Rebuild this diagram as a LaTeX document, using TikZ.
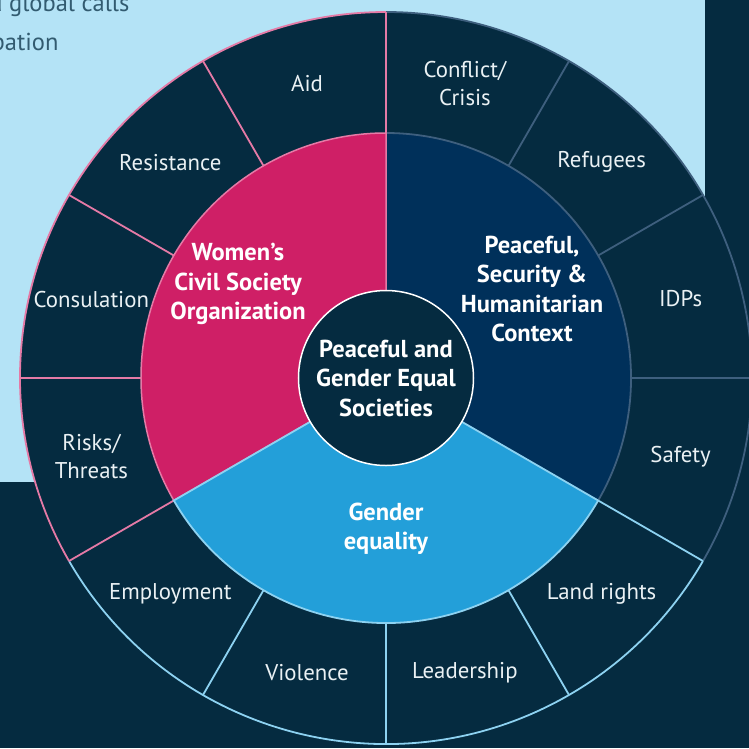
\documentclass[tikz,border=0pt]{standalone}
\usepackage{fontspec}
\setmainfont{PT Sans}
\usepackage{tikz}

\definecolor{bgnavy}{HTML}{052B40}
\definecolor{bglight}{HTML}{B4E3F6}
\definecolor{wcso}{HTML}{CF1F66}
\definecolor{wcsoline}{HTML}{E57AA6}
\definecolor{peace}{HTML}{00305A}
\definecolor{peaceline}{HTML}{3E5F7E}
\definecolor{gender}{HTML}{239FD9}
\definecolor{genderline}{HTML}{8DD2F1}
\definecolor{labeltext}{HTML}{EAF1F4}
\definecolor{introtext}{HTML}{325B70}

\tikzset{
  ringlabel/.style={text=labeltext, align=center, font=\fontsize{22.8}{28}\selectfont},
  sectorlabel/.style={text=white, align=center, font=\bfseries\fontsize{24.5}{29.5}\selectfont},
  introlabel/.style={anchor=base east, text=introtext, font=\fontsize{24.5}{24.5}\selectfont},
}

\begin{document}
\begin{tikzpicture}[x=1pt,y=1pt]

 % page is 749 x 748, wheel centred at (0,0)
 \useasboundingbox (-386,-370) rectangle (363,378);
 \fill[bgnavy] (-386,-370) rectangle (363,378);
 \fill[bglight] (-386,-104) rectangle (319,378);

% Bits of the intro text that run off the page
 \begin{scope}
  \clip (-386,-370) rectangle (363,378);
  \node[introlabel] (intro1) at (-253,367) {u global calls};
  \node[introlabel] (intro2) at (-324,328) {pation};
 \end{scope}

 \fill[bgnavy] (0,0) circle (366); % outer ring

% Ring lines: navy part first, then light blue, pink on top
 \draw[peaceline, line width=1.8] (-30:366) arc (-30:90:366);
 \draw[peaceline, line width=1.8] (0:245) -- (0:366);
 \draw[peaceline, line width=1.8] (30:245) -- (30:366);
 \draw[peaceline, line width=1.8] (60:245) -- (60:366);

 \draw[genderline, line width=1.8] (210:366) arc (210:330:366);
 \draw[genderline, line width=1.8] (240:245) -- (240:366);
 \draw[genderline, line width=1.8] (270:245) -- (270:366);
 \draw[genderline, line width=1.8] (300:245) -- (300:366);
 \draw[genderline, line width=1.8] (330:245) -- (330:366);

 \draw[wcsoline, line width=1.8] (90:366) arc (90:210:366);
 \draw[wcsoline, line width=1.8] (90:245) -- (90:366);
 \draw[wcsoline, line width=1.8] (120:245) -- (120:366);
 \draw[wcsoline, line width=1.8] (150:245) -- (150:366);
 \draw[wcsoline, line width=1.8] (180:245) -- (180:366);
 \draw[wcsoline, line width=1.8] (210:245) -- (210:366);

% The three sectors
 \fill[peace] (0,0) -- (-30:245) arc (-30:90:245) -- cycle;
 \draw[peaceline, line width=1.8] (-30:245) arc (-30:90:245);
 \filldraw[fill=wcso, draw=wcsoline, line width=1.5] (0,0) -- (90:245) arc (90:210:245) -- cycle;
 \filldraw[fill=gender, draw=genderline, line width=1.8] (0,0) -- (210:245) arc (210:330:245) -- cycle;

% Hub
 \node[circle, draw=white, fill=bgnavy, line width=1.5, minimum size=175, inner sep=0, sectorlabel] (hub) at (0,0) {Peaceful and\\Gender Equal\\Societies};

 \node[sectorlabel] (wcsolabel) at (-148,94) {Women’s\\Civil Society\\Organization};
 \node[sectorlabel] (peacelabel) at (146,89) {Peaceful,\\Security \&\\Humanitarian\\Context};
 \node[sectorlabel] (genderlabel) at (0,-151) {Gender\\equality};

% Outer ring labels
 \node[ringlabel] (aid) at (105:305) {Aid};
 \node[ringlabel] (resistance) at (135:305) {Resistance};
 \node[ringlabel] (consulation) at (165:305) {Consulation};
 \node[ringlabel] (risks) at (195:305) {Risks/\\Threats};
 \node[ringlabel] (employment) at (225:305) {Employment};
 \node[ringlabel] (violence) at (255:305) {Violence};
 \node[ringlabel] (leadership) at (285:305) {Leadership};
 \node[ringlabel] (landrights) at (315:305) {Land rights};
 \node[ringlabel] (safety) at (345:305) {Safety};
 \node[ringlabel] (idps) at (15:305) {IDPs};
 \node[ringlabel] (refugees) at (45:305) {Refugees};
 \node[ringlabel] (conflict) at (75:305) {Conflict/\\Crisis};

\end{tikzpicture}
\end{document}
